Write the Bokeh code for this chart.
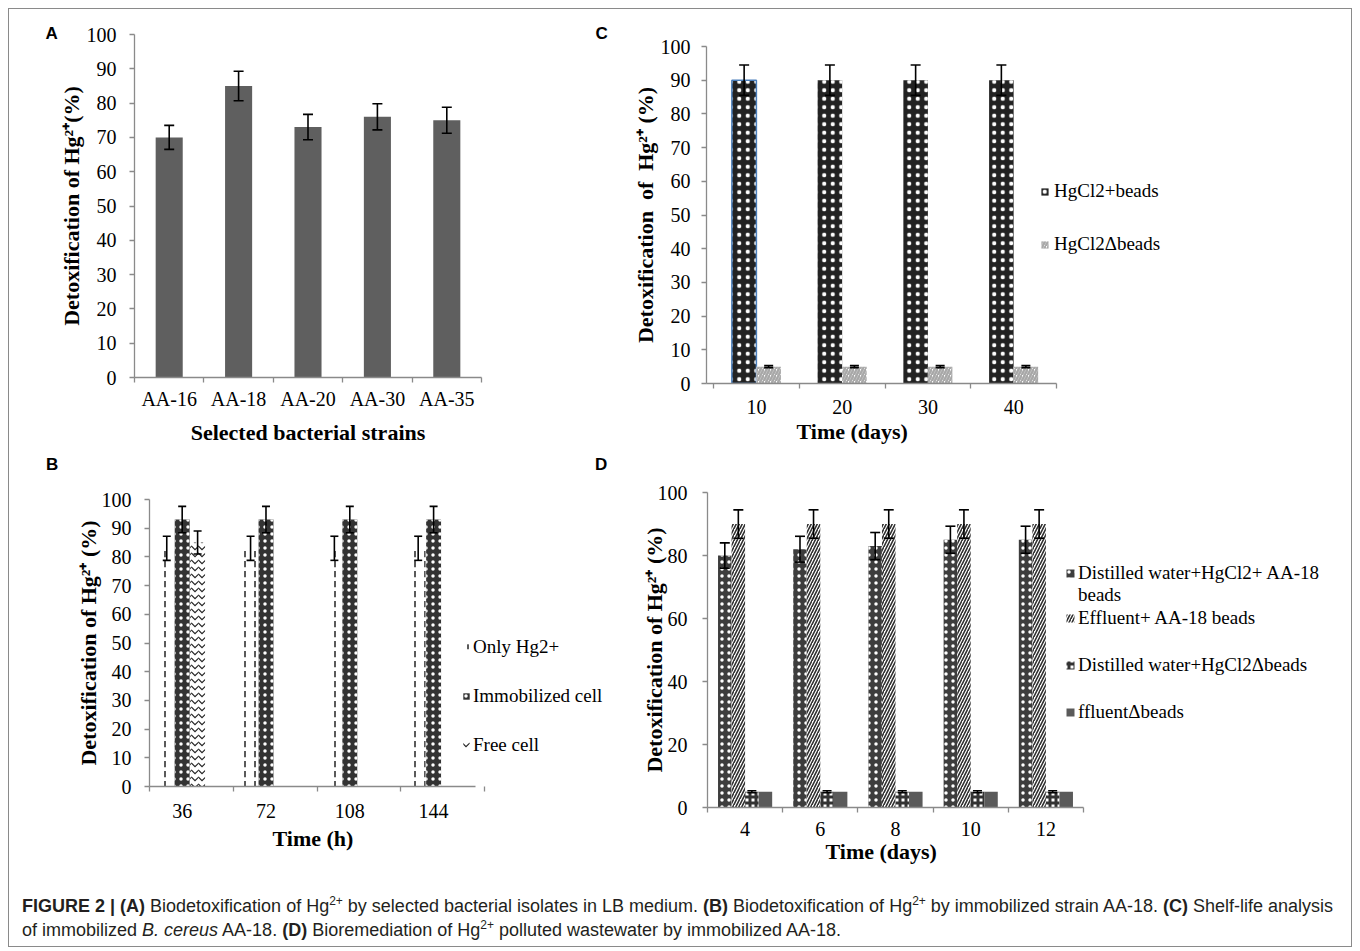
from bokeh.plotting import figure
from bokeh.models import (ColumnDataSource, FixedTicker, Whisker, TeeHead, Legend,
                          LegendItem, Div, Title)
from bokeh.layouts import column, row
from bokeh.embed import file_html
from bokeh.resources import INLINE

# ---------------- data ----------------
a_strains = ["AA-16", "AA-18", "AA-20", "AA-30", "AA-35"]
a_detox = [70, 85, 73, 76, 75]
a_err = [3.5, 4.3, 3.7, 3.8, 3.8]

b_hours = ["36", "72", "108", "144"]
b_only_hg = [83, 83, 83, 83]
b_only_hg_err = [4.2, 4.2, 4.2, 4.2]
b_immobilized = [93, 93, 93, 93]
b_immobilized_err = [4.6, 4.6, 4.6, 4.6]
b_free = [85, 0, 0, 0]
b_free_err = [4.0, 0, 0, 0]

c_days = ["10", "20", "30", "40"]
c_beads = [90, 90, 90, 90]
c_beads_err = [4.5, 4.5, 4.5, 4.5]
c_no_beads = [5, 5, 5, 5]
c_no_beads_err = [0.3, 0.3, 0.3, 0.3]

d_days = ["4", "6", "8", "10", "12"]
d_dw_beads = [80, 82, 83, 85, 85]
d_dw_beads_err = [4.0, 4.1, 4.3, 4.3, 4.3]
d_eff_beads = [90, 90, 90, 90, 90]
d_eff_beads_err = [4.5, 4.5, 4.5, 4.5, 4.5]
d_dw_no_beads = [5, 5, 5, 5, 5]
d_dw_no_beads_err = [0.3, 0.3, 0.3, 0.3, 0.3]
d_eff_no_beads = [5, 5, 5, 5, 5]

# ---------------- style ----------------
SERIF = "Liberation Serif"
SANS = "Liberation Sans"
AXIS_GREY = "#8a8a8a"


def make_fig(w, h, left, right, top, bottom, n_cat, first_bound, axis_px, y_ticks):
    """axis_px: pixel length of the category axis (n_cat categories)."""
    frame_w = w - left - right
    px_per_unit = axis_px / (n_cat + 0.5 - first_bound)
    x_end = first_bound + frame_w / px_per_unit
    p = figure(width=w, height=h, min_border_left=left, min_border_right=right,
               min_border_top=top, min_border_bottom=bottom, title=None,
               x_range=(first_bound, x_end), y_range=(0, 100), output_backend="svg",
               toolbar_location=None, tools="")
    if "frame_align" in p.properties():
        p.frame_align = False
    p.outline_line_color = None
    p.grid.visible = False
    p.background_fill_color = "white"
    p.border_fill_color = "white"
    for ax in (p.xaxis[0], p.yaxis[0]):
        ax.axis_line_color = AXIS_GREY
        ax.axis_line_width = 1.3
        ax.major_tick_line_color = AXIS_GREY
        ax.minor_tick_line_color = AXIS_GREY
        ax.major_tick_line_width = 1.3
        ax.minor_tick_line_width = 1.3
        ax.major_label_text_font = SERIF
        ax.major_label_text_font_size = "20px"
        ax.major_label_text_color = "black"
        ax.axis_label_text_font = SERIF
        ax.axis_label_text_font_size = "22px"
        ax.axis_label_text_font_style = "bold"
        ax.axis_label_text_color = "black"
    ya = p.yaxis[0]
    ya.ticker = FixedTicker(ticks=y_ticks)
    ya.major_tick_out = 5
    ya.major_tick_in = 0
    ya.minor_tick_out = 0
    ya.minor_tick_in = 0
    xa = p.xaxis[0]
    xa.bounds = (first_bound, n_cat + 0.5)
    return p


def set_categories(p, labels, first_boundary):
    n = len(labels)
    centers = list(range(1, n + 1))
    bounds = [round(first_boundary + k, 3) for k in range(n + 1)]
    xa = p.xaxis[0]
    xa.ticker = FixedTicker(ticks=centers, minor_ticks=bounds)
    xa.major_label_overrides = {c: lab for c, lab in zip(centers, labels)}
    xa.major_tick_out = 0
    xa.major_tick_in = 0
    xa.minor_tick_out = 5
    xa.minor_tick_in = 0
    return centers


def add_errors(p, xs, vals, errs, size=10):
    base, up, lo = [], [], []
    for x, v, e in zip(xs, vals, errs):
        if e > 0:
            base.append(x)
            up.append(v + e)
            lo.append(v - e)
    src = ColumnDataSource(dict(base=base, upper=up, lower=lo))
    w = Whisker(source=src, base="base", upper="upper", lower="lower",
                dimension="height", line_color="black", line_width=1.6, level="overlay")
    w.upper_head = TeeHead(size=size, line_color="black", line_width=1.6)
    w.lower_head = TeeHead(size=size, line_color="black", line_width=1.6)
    p.add_layout(w)


def make_legend(p, items, loc, spacing, glyph=9, standoff=4):
    lg = Legend(items=items, location=loc, orientation="vertical", padding=0, margin=0,
                spacing=spacing, label_height=22, glyph_height=glyph,
                glyph_width=glyph, label_standoff=standoff, background_fill_alpha=0,
                border_line_alpha=0, label_text_font=SERIF, label_text_font_size="19px",
                label_text_color="black")
    p.add_layout(lg)
    return lg


def panel_title(p, text, offset, standoff):
    p.title = Title(text=text, align="left", offset=offset, standoff=standoff,
                    text_font=SANS, text_font_style="bold", text_font_size="17px",
                    text_color="black")


def x_title(p, text, offset, standoff):
    """x-axis title placed under the axis, starting `offset` px from the frame's left."""
    p.add_layout(Title(text=text, align="left", offset=offset, standoff=standoff,
                       vertical_align="top", text_font=SERIF, text_font_style="bold",
                       text_font_size="22px", text_color="black"), "below")


def shift(xs, d):
    return [x + d for x in xs]


# ---------------- panel A ----------------
pA = make_fig(581, 442, 125, 109, 25, 74, 5, 0.5, 347, list(range(0, 101, 10)))
ca = set_categories(pA, a_strains, 0.5)
pA.vbar(x=ca, top=a_detox, width=0.39, fill_color="#5f5f5f", line_color=None)
add_errors(pA, ca, a_detox, a_err)
pA.xaxis.axis_label = "Selected bacterial strains"
pA.yaxis.axis_label = "Detoxification of Hg\u00b2\u207a(%)"
pA.xaxis.major_label_standoff = 5
pA.xaxis.axis_label_standoff = 7
pA.yaxis.major_label_standoff = 13
pA.yaxis.axis_label_standoff = 0
panel_title(pA, "A", -89, -17)

# ---------------- panel C ----------------
pC = make_fig(761, 442, 116, 0, 37, 68, 4, 0.418, 350, list(range(0, 101, 10)))
cc = set_categories(pC, c_days, 0.5)
x1 = shift(cc, -0.143)
x2 = shift(cc, 0.143)
src_c1 = ColumnDataSource(dict(x=x1, top=c_beads, la=[1, 0, 0, 0]))
r_c1 = pC.vbar(x="x", top="top", width=0.286, source=src_c1, fill_color="#222222",
               line_color="#4a7ebb", line_alpha="la", line_width=1.5,
               hatch_pattern="dot", hatch_color="white", hatch_scale=8.5, hatch_weight=1)
r_c2 = pC.vbar(x=x2, top=c_no_beads, width=0.286, fill_color="white", line_color=None,
               hatch_pattern="right_diagonal_line", hatch_color="#a8a8a8",
               hatch_scale=6, hatch_weight=2.5)
add_errors(pC, x1, c_beads, c_beads_err)
add_errors(pC, x2, c_no_beads, c_no_beads_err, size=9)
x_title(pC, "Time (days)", 90, 4)
pC.yaxis.axis_label = "Detoxification\u00a0 of\u00a0 Hg\u00b2\u207a (%)"
pC.xaxis.major_label_standoff = 11
pC.yaxis.major_label_standoff = 11
pC.yaxis.axis_label_standoff = 0
make_legend(pC, [LegendItem(label="HgCl2+beads", renderers=[r_c1], index=1),
                 LegendItem(label="HgCl2\u0394beads", renderers=[r_c2])],
            (334, 128), 31, glyph=9, standoff=5)
panel_title(pC, "C", -111, 7)

# ---------------- letters strip for B / D ----------------
strip = Div(text=(
    "<div style=\"position:relative;width:1342px;height:30px;font-family:'Liberation Sans',"
    "Arial,sans-serif;font-weight:bold;font-size:17px;line-height:28px;color:#000;\">"
    "<span style='position:absolute;left:37px;top:0'>B</span>"
    "<span style='position:absolute;left:586px;top:0'>D</span></div>"),
    width=1342, height=30, margin=0)

# ---------------- panel B ----------------
pB = make_fig(611, 390, 140, 0, 18, 85, 4, 0.61, 326, list(range(0, 101, 10)))
cb = set_categories(pB, b_hours, 0.61)
xb1 = shift(cb, -0.184)
xb2 = cb
xb3 = shift(cb, 0.184)
r_b1 = pB.vbar(x=xb1, top=b_only_hg, width=0.178, fill_color="white", line_color=None,
               hatch_pattern="vertical_dash", hatch_color="#222222", hatch_scale=10,
               hatch_weight=1.5)
r_b2 = pB.vbar(x=xb2, top=b_immobilized, width=0.178, fill_color="#333333", line_color=None,
               hatch_pattern="dot", hatch_color="white", hatch_scale=7, hatch_weight=1)
r_b3 = pB.vbar(x=xb3, top=b_free, width=0.178, fill_color="white", line_color=None,
               hatch_pattern="horizontal_wave", hatch_color="#222222", hatch_scale=7,
               hatch_weight=1.2)
add_errors(pB, xb1, b_only_hg, b_only_hg_err, size=8)
add_errors(pB, xb2, b_immobilized, b_immobilized_err, size=8)
add_errors(pB, xb3, b_free, b_free_err, size=8)
x_title(pB, "Time (h)", 123, 10)
pB.yaxis.axis_label = "Detoxification of Hg\u00b2\u207a (%)"
pB.xaxis.major_label_standoff = 12
pB.yaxis.major_label_standoff = 13
pB.yaxis.axis_label_standoff = -2
make_legend(pB, [LegendItem(label="Only Hg2+", renderers=[r_b1]),
                 LegendItem(label="Immobilized cell", renderers=[r_b2]),
                 LegendItem(label="Free cell", renderers=[r_b3])],
            (313, 30), 27, glyph=8, standoff=3)

# ---------------- panel D ----------------
pD = make_fig(731, 390, 87, 0, 11, 64, 5, 0.5, 376, list(range(0, 101, 20)))
cd = set_categories(pD, d_days, 0.5)
xd1 = shift(cd, -0.27)
xd2 = shift(cd, -0.09)
xd3 = shift(cd, 0.09)
xd4 = shift(cd, 0.27)
r_d1 = pD.vbar(x=xd1, top=d_dw_beads, width=0.18, fill_color="#3d3d3d", line_color=None,
               hatch_pattern="dot", hatch_color="white", hatch_scale=7, hatch_weight=1)
r_d2 = pD.vbar(x=xd2, top=d_eff_beads, width=0.18, fill_color="white", line_color=None,
               hatch_pattern="right_diagonal_line", hatch_color="#2e2e2e", hatch_scale=6,
               hatch_weight=1.6)
r_d3 = pD.vbar(x=xd3, top=d_dw_no_beads, width=0.18, fill_color="white", line_color=None,
               hatch_pattern="cross", hatch_color="#333333", hatch_scale=6, hatch_weight=3)
r_d4 = pD.vbar(x=xd4, top=d_eff_no_beads, width=0.18, fill_color="#5a5a5a", line_color=None)
r_dummy = pD.vbar(x=[], top=[], width=0.1, fill_alpha=0, line_alpha=0)
add_errors(pD, xd1, d_dw_beads, d_dw_beads_err)
add_errors(pD, xd2, d_eff_beads, d_eff_beads_err)
add_errors(pD, xd3, d_dw_no_beads, d_dw_no_beads_err, size=9)
x_title(pD, "Time (days)", 118, 0)
pD.yaxis.axis_label = "Detoxification of Hg\u00b2\u207a (%)"
pD.xaxis.major_label_standoff = 9
pD.yaxis.major_label_standoff = 15
pD.yaxis.axis_label_standoff = -12
make_legend(pD, [LegendItem(label="Distilled water+HgCl2+ AA-18", renderers=[r_d1]),
                 LegendItem(label="beads", renderers=[r_dummy])],
            (358, 201), 0, glyph=10, standoff=3)
make_legend(pD, [LegendItem(label="Effluent+ AA-18 beads", renderers=[r_d2]),
                 LegendItem(label="Distilled water+HgCl2\u0394beads", renderers=[r_d3]),
                 LegendItem(label="ffluent\u0394beads", renderers=[r_d4])],
            (358, 84), 25, glyph=10, standoff=3)

# ---------------- caption ----------------
SUP = "<sup style='font-size:12px;line-height:0;vertical-align:super'>2+</sup>"
caption_html = (
    "<div style=\"font-family:'Liberation Sans',Arial,sans-serif;"
    "font-size:18px;line-height:24px;color:#231f20;padding:23px 0 0 13px;white-space:nowrap;\">"
    "<b>FIGURE 2 | (A)</b> Biodetoxification of Hg" + SUP + " by selected "
    "bacterial isolates in LB medium. <b>(B)</b> Biodetoxification of Hg" + SUP + " "
    "by immobilized strain AA-18. <b>(C)</b> Shelf-life analysis<br>"
    "of immobilized <i>B. cereus</i> AA-18. <b>(D)</b> Bioremediation of "
    "Hg" + SUP + " polluted wastewater by immobilized AA-18.</div>"
)
cap = Div(text=caption_html, width=1342, height=75, margin=0)

root = column(row(column(pA), column(pC)), strip, row(column(pB), column(pD)), cap,
              margin=(8, 0, 0, 8), styles={"border": "1px solid #8a8a8a"})

open("out.html", "w").write(file_html(root, INLINE, "Figure 2"))
